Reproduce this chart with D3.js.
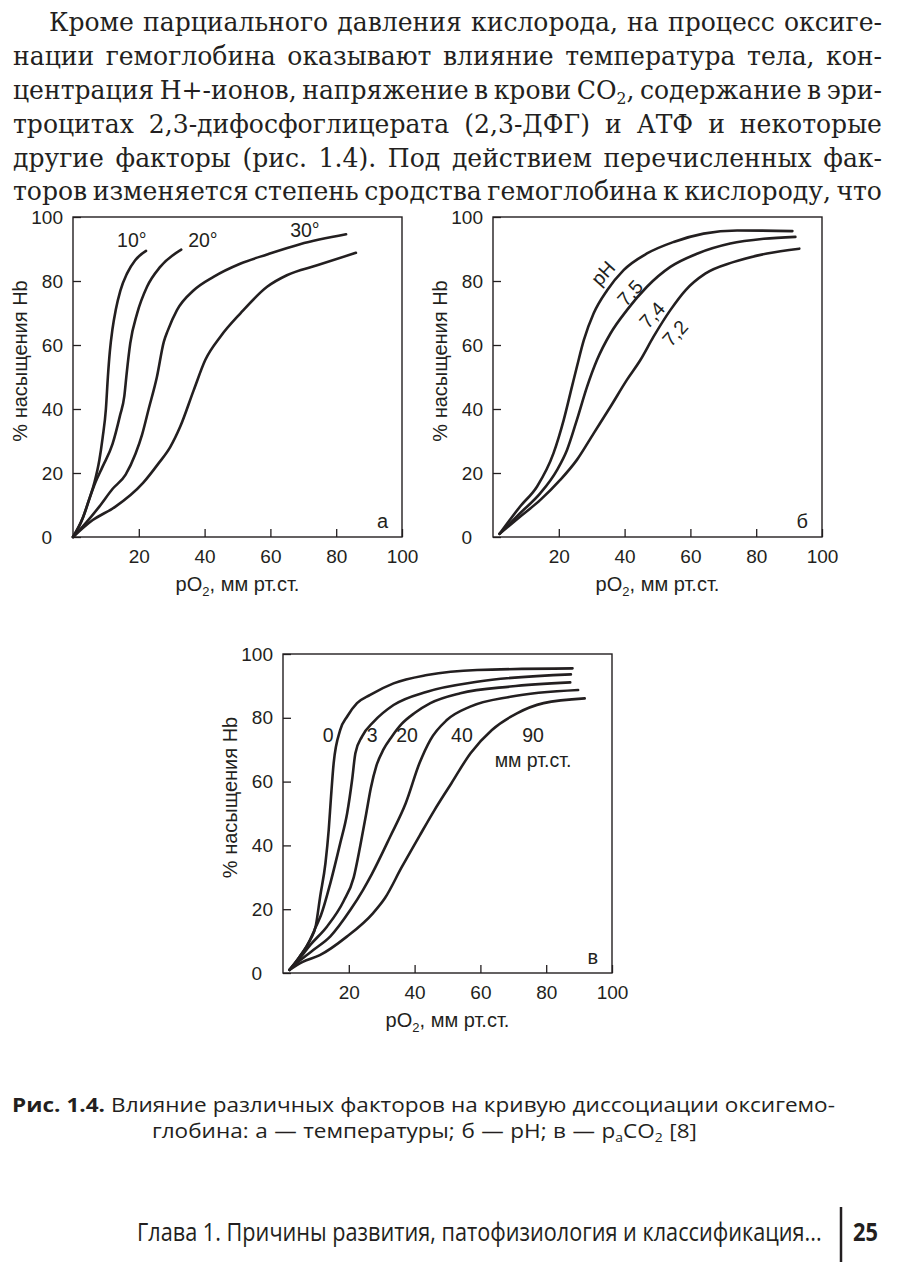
<!DOCTYPE html>
<html><head><meta charset="utf-8">
<script src="https://cdn.jsdelivr.net/npm/d3@7"></script>
<style>body{margin:0;background:#fff}svg{display:block}</style>
</head><body>
<svg id="page" width="900" height="1264"></svg>
<script>
// ---------- data ----------
const xTickValues = [20, 40, 60, 80, 100];
const yTickValues = [0, 20, 40, 60, 80, 100];

// panel а — temperature
const a10 = [[0,0],[3,6],[5,12],[6.5,17],[8,24],[9,31],[10,40],[10.6,50],[11.2,58],[12,65],[13,71],[14.4,77],[16.4,82.3],[18.9,86.5],[22.2,89.4]];
const a20 = [[0,0],[3,6],[5,12],[6.8,17],[9,22],[12,29],[14.3,38],[15.6,44],[16.3,51],[17.4,60.5],[19.5,69.9],[22.5,78.2],[26.5,84.4],[32.9,89.8]];
const a30 = [[0,0],[4,4.5],[8,9.5],[12,15],[16,19.5],[19,26],[21,32],[23,40],[25.5,50],[27.6,61],[28.8,64.5],[31.6,70.9],[36.7,77.1],[42.7,81.3],[50.8,85.4],[59,88.3],[69,91.5],[83,94.6]];
const a37 = [[0,0],[6,5.3],[12.8,9.4],[21.3,16.9],[26,23],[29.5,28],[32.6,34.5],[36.7,45.9],[40.2,55.3],[44.8,62.6],[50.9,69.9],[59,78.2],[65,81.8],[74.2,84.9],[86,88.8]];
const aLabelText = ["10°", "20°", "30°"];
const aLabelAt = [[13.4,90.6],[35,90.6],[66,93.75]];

// panel б — pH
const b75 = [[2,1],[8.3,9.6],[13.4,15.8],[18.4,26.2],[21.5,36.6],[24,47],[25.5,53.2],[27.6,61.5],[30.6,69.9],[34.7,77.1],[39.7,83.4],[46.8,88.6],[54.9,92.2],[64,94.8],[74.2,95.8],[91,95.6]];
const b74 = [[2,1],[8.3,7.5],[14.4,13.7],[19.5,21],[22.5,27.2],[25.5,36.6],[28.6,47],[31.6,55.3],[35.7,63.6],[40.7,70.9],[46.8,78.2],[53.9,84.4],[62.2,88.6],[72.1,91.7],[82.3,93.2],[91.9,93.8]];
const b72 = [[2,1],[8.3,6.4],[14.4,11.6],[20.5,17.9],[25.5,24.1],[30.6,32.4],[35.7,40.7],[40.7,49.1],[44.8,55.3],[48.8,62.6],[53.9,70.9],[58.5,77.1],[64.5,82.3],[73,85.9],[83.3,88.6],[93.1,90.1]];
const bLabelText = ["pH", "7,5", "7,4", "7,2"];
const bLabelAt = [[33.4,82.5],[41.6,76.3],[48.3,69.4],[55.3,63.75]];

// panel в — paCO2
const c0  = [[2,1],[5,5],[8.3,10.5],[10,15],[11.3,24],[12.9,34.4],[13.9,44.9],[14.6,55.3],[15.4,65.8],[17.4,76.2],[19.5,80.4],[22.5,84.6],[26.5,87.2],[33.6,90.8],[43.8,93.4],[59,95],[88,95.5]];
const c3  = [[2,1],[5,5],[8.3,10.5],[10,14.5],[11.5,18],[14.4,28.2],[17.4,40.7],[19.5,50.1],[21,60.5],[22,68.9],[24,74.1],[27.6,78.8],[33.6,84],[43.8,88.2],[59,91.3],[87.5,93.6]];
const c20 = [[2,1],[5,4.5],[8.3,8.8],[13.4,14.6],[18.4,22.5],[21.5,30],[23.5,40],[25.3,50],[26.7,58],[28.4,65],[30.5,70],[33,74],[36,78],[40,81.5],[44.8,84.6],[53.9,87.7],[69.1,89.8],[87.3,91.1]];
const c40 = [[2,1],[5,3.8],[9.2,7.2],[14.4,11.5],[20.5,19.8],[24.3,26],[27,31],[32.6,42.8],[37.3,53.2],[41.5,65.8],[44.8,73.1],[49.8,79.3],[56.9,83.5],[69.1,86.6],[89.7,88.7]];
const c90 = [[2,1],[6,3.5],[11.2,5.6],[19.4,11.4],[27.4,18.8],[31,23.5],[36,33],[41.5,43],[46,51],[51.2,59.5],[57,68.9],[63.5,76.2],[71.1,81.4],[79.2,84.6],[91.7,86.1]];
const cLabelText = ["0", "3", "20", "40", "90", "мм рт.ст."];
const cLabelAt = [[13.7,72.4],[27.1,72.4],[37.7,72.4],[54.4,72.4],[76,72.4],[76,64.6]];

// page text
const paragraphLines = [
  "Кроме парциального давления кислорода, на процесс оксиге-",
  "нации гемоглобина оказывают влияние температура тела, кон-",
  "центрация H+-ионов, напряжение в крови CO{2}, содержание в эри-",
  "троцитах 2,3-дифосфоглицерата (2,3-ДФГ) и АТФ и некоторые",
  "другие факторы (рис. 1.4). Под действием перечисленных фак-",
  "торов изменяется степень сродства гемоглобина к кислороду, что"
];
const captionLines = [
  "*Рис. *1.4. Влияние различных факторов на кривую диссоциации оксигемо-",
  "глобина: а — температуры; б — pH; в — p{a}CO{2} [8]"
];
const footerText = "Глава 1. Причины развития, патофизиология и классификация...";
const pageNumber = "25";

// ---------- drawing ----------
const ink = "#231f20";
const svg = d3.select("#page");
svg.append("rect").attr("width", 900).attr("height", 1264).attr("fill", "#fff");
const chartFont = "'Liberation Sans', Arial, Helvetica, sans-serif";

function segs(word) {
  let bold = false;
  if (word.startsWith("*")) { bold = true; word = word.slice(1); }
  const out = [];
  const re = /\{([^}]*)\}/g;
  let last = 0, m;
  while ((m = re.exec(word)) !== null) {
    if (m.index > last) out.push({t: word.slice(last, m.index), sub: false});
    out.push({t: m[1], sub: true});
    last = re.lastIndex;
  }
  if (last < word.length) out.push({t: word.slice(last), sub: false});
  return {bold, parts: out};
}

function fillText(t, word, fs) {
  const s = segs(word);
  if (s.bold) t.attr("font-weight", "bold");
  let shifted = false;
  s.parts.forEach(p => {
    const ts = t.append("tspan").text(p.t);
    if (p.sub) { ts.attr("font-size", fs * 0.62).attr("dy", fs * 0.22); shifted = true; }
    else if (shifted) { ts.attr("dy", -fs * 0.22); shifted = false; }
  });
}

// Justified lines with a common horizontal scale so word spacing stays natural
function textBlock(lines, specs, font, fs, targetGap, extra) {
  const blocks = lines.map((line, i) => {
    const g = svg.append("g").attr("font-family", font).attr("font-size", fs).attr("fill", ink);
    if (extra) extra(g);
    const words = line.split(" ");
    const nodes = words.map(w => { const t = g.append("text").attr("y", specs[i].y); fillText(t, w, fs); return t; });
    const widths = nodes.map(t => t.node().getComputedTextLength());
    return {g, nodes, widths, sum: d3.sum(widths), n: words.length};
  });
  const sxs = blocks.map((b, i) => (specs[i].x1 - specs[i].x0 - targetGap * (b.n - 1)) / b.sum);
  const sx = specs.useFirst ? sxs[0] : d3.mean(sxs);
  blocks.forEach((b, i) => {
    const W = specs[i].x1 - specs[i].x0;
    let gap = (W - sx * b.sum) / Math.max(1, b.n - 1);
    let lsx = sx;
    if (gap < 2) { gap = 2; lsx = (W - gap * (b.n - 1)) / b.sum; }
    let x = 0;
    b.nodes.forEach((t, k) => { t.attr("x", x); x += b.widths[k] + gap / lsx; });
    b.g.attr("transform", `translate(${specs[i].x0},0) scale(${lsx},1)`);
  });
}

// paragraph
const serif = "'DejaVu Serif Condensed', 'DejaVu Serif', 'Liberation Serif', serif";
const paraSpecs = paragraphLines.map((l, i) => ({x0: i === 0 ? 49 : 13, x1: 882, y: 31 + i * 33.9}));
textBlock(paragraphLines, paraSpecs, serif, 25.5, 9.5, g => g.attr("font-stretch", "condensed"));

// panels
const panels = [
  {left: 73, top: 217, w: 329, h: 320, curves: [a10, a20, a30, a37], letter: "а",
   labels: aLabelText, at: aLabelAt, rot: 0, anchor: "start"},
  {left: 493, top: 217, w: 329, h: 320, curves: [b75, b74, b72], letter: "б",
   labels: bLabelText, at: bLabelAt, rot: -48, anchor: "middle"},
  {left: 283, top: 654, w: 329, h: 319, curves: [c0, c3, c20, c40, c90], letter: "в",
   labels: cLabelText, at: cLabelAt, rot: 0, anchor: "middle"}
];

panels.forEach(p => {
  const x = d3.scaleLinear().domain([0, 100]).range([p.left, p.left + p.w]);
  const y = d3.scaleLinear().domain([0, 100]).range([p.top + p.h, p.top]);
  const g = svg.append("g");

  const gx = g.append("g").attr("transform", `translate(0,${p.top + p.h})`)
    .call(d3.axisBottom(x).tickValues(xTickValues).tickSize(-8).tickPadding(13));
  const gy = g.append("g").attr("transform", `translate(${p.left},0)`)
    .call(d3.axisLeft(y).tickValues(yTickValues).tickSize(-8).tickPadding(10));
  [gx, gy].forEach(ax => {
    ax.attr("font-family", chartFont).attr("font-size", 19);
    ax.select(".domain").remove();
    ax.selectAll("line").attr("stroke", ink).attr("stroke-width", 1.3);
    ax.selectAll("text").attr("fill", ink);
  });
  gy.selectAll(".tick").filter(d => d === 0).select("text").attr("x", -21);

  g.append("rect").attr("x", p.left).attr("y", p.top).attr("width", p.w).attr("height", p.h)
    .attr("fill", "none").attr("stroke", ink).attr("stroke-width", 1.4);

  const line = d3.line().x(d => x(d[0])).y(d => y(d[1])).curve(d3.curveMonotoneX);
  g.selectAll("path.curve").data(p.curves).join("path").attr("class", "curve")
    .attr("d", line).attr("fill", "none").attr("stroke", ink)
    .attr("stroke-width", 2.6).attr("stroke-linecap", "round").attr("stroke-linejoin", "round");

  p.labels.forEach((txt, i) => {
    const t = g.append("text").attr("font-family", chartFont).attr("font-size", 19.5)
      .attr("fill", ink).attr("text-anchor", p.anchor).text(txt);
    if (p.rot) {
      t.attr("dominant-baseline", "central")
        .attr("transform", `translate(${x(p.at[i][0])},${y(p.at[i][1])}) rotate(${p.rot})`);
    } else {
      t.attr("x", x(p.at[i][0])).attr("y", y(p.at[i][1]));
    }
  });

  g.append("text").attr("x", p.left + p.w - 14).attr("y", p.top + p.h - 9)
    .attr("text-anchor", "end").attr("font-family", chartFont).attr("font-size", 20)
    .attr("fill", ink).text(p.letter);

  const xt = g.append("text").attr("x", p.left + p.w / 2).attr("y", p.top + p.h + 54)
    .attr("text-anchor", "middle").attr("font-family", chartFont).attr("font-size", 20).attr("fill", ink);
  xt.append("tspan").text("pO");
  xt.append("tspan").text("2").attr("font-size", 13).attr("dy", 5);
  xt.append("tspan").text(", мм рт.ст.").attr("dy", -5);

  g.append("text").attr("transform", `translate(${p.left - 46},${p.top + p.h / 2 - 16}) rotate(-90)`)
    .attr("text-anchor", "middle").attr("font-family", chartFont).attr("font-size", 20)
    .attr("fill", ink).text("% насыщения Hb");
});

// caption
const sans = "'Open Sans', 'Noto Sans', sans-serif";
const capSpecs = [{x0: 12, x1: 835, y: 1112}, {x0: 152, x1: 697, y: 1138}];
capSpecs.useFirst = true;
textBlock(captionLines, capSpecs, sans, 20, 6);

// footer
const fg = svg.append("g").attr("font-family", sans).attr("fill", ink);
const ft = fg.append("text").attr("x", 137).attr("y", 1241).attr("font-size", 25).text(footerText);
const fw = ft.node().getComputedTextLength();
ft.attr("transform", `translate(137,0) scale(${(822 - 137) / fw},1) translate(-137,0)`);
fg.append("line").attr("x1", 841).attr("x2", 841).attr("y1", 1207).attr("y2", 1262)
  .attr("stroke", ink).attr("stroke-width", 2.5);
const pn = fg.append("text").attr("x", 853).attr("y", 1241).attr("font-size", 25)
  .attr("font-weight", "bold").text(pageNumber);
const pw = pn.node().getComputedTextLength();
pn.attr("transform", `translate(853,0) scale(${25 / pw},1) translate(-853,0)`);
</script>
</body></html>
